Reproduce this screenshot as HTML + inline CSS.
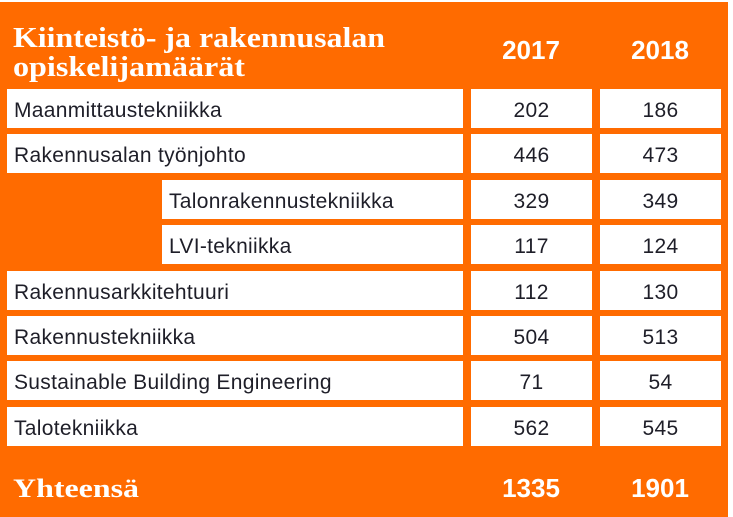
<!DOCTYPE html>
<html><head><meta charset="utf-8">
<style>
html,body{margin:0;padding:0;background:#fff;}
#wrap{position:relative;width:733px;height:517px;overflow:hidden;background:#fff;}
#bg{position:absolute;left:0;top:2px;width:728px;height:515px;background:#FF6B00;}
.cell{position:absolute;background:#fff;height:39px;font-family:"Liberation Sans",sans-serif;font-size:21px;letter-spacing:0.3px;color:#1e1e28;line-height:44px;white-space:nowrap;}
.lab{padding-left:7px;box-sizing:border-box;}
.num{text-align:center;}
svg{position:absolute;left:0;top:0;}
</style></head>
<body>
<div id="wrap">
<div id="bg"></div>
<svg width="733" height="517">
<text x="13" y="47" font-family="Liberation Serif" font-weight="bold" font-size="28" fill="#fff" textLength="372" lengthAdjust="spacingAndGlyphs">Kiinteistö- ja rakennusalan</text>
<text x="13" y="76" font-family="Liberation Serif" font-weight="bold" font-size="28" fill="#fff" textLength="232" lengthAdjust="spacingAndGlyphs">opiskelijamäärät</text>
<text x="531" y="59" text-anchor="middle" font-family="Liberation Sans" font-weight="bold" font-size="26" fill="#fff">2017</text>
<text x="660" y="59" text-anchor="middle" font-family="Liberation Sans" font-weight="bold" font-size="26" fill="#fff">2018</text>
<text x="13" y="497" font-family="Liberation Serif" font-weight="bold" font-size="26" fill="#fff" textLength="126" lengthAdjust="spacingAndGlyphs">Yhteensä</text>
<text x="531" y="497" text-anchor="middle" font-family="Liberation Sans" font-weight="bold" font-size="26" fill="#fff">1335</text>
<text x="660" y="497" text-anchor="middle" font-family="Liberation Sans" font-weight="bold" font-size="26" fill="#fff">1901</text>
</svg>
<div id="rows"></div>
</div>
<script>
const labels=["Maanmittaustekniikka","Rakennusalan työnjohto","Talonrakennustekniikka","LVI-tekniikka","Rakennusarkkitehtuuri","Rakennustekniikka","Sustainable Building Engineering","Talotekniikka"];
const sub=[false,false,true,true,false,false,false,false];
const v2017=[202,446,329,117,112,504,71,562];
const v2018=[186,473,349,124,130,513,54,545];
const wrap=document.getElementById('rows');
function mk(cls,x,y,w,t){const d=document.createElement('div');d.className='cell '+cls;d.style.left=x+'px';d.style.top=y+'px';d.style.width=w+'px';d.textContent=t;wrap.appendChild(d);return d;}
labels.forEach((l,i)=>{
 const y=89+i*45.4;
 const x=sub[i]?162:7;
 const a=mk('lab',x,y,463-x,l);
 
 
 const b=mk('num',471,y,121,v2017[i]);
 
 
 const c=mk('num',600,y,121,v2018[i]);
 
 
});
</script>
</body></html>
